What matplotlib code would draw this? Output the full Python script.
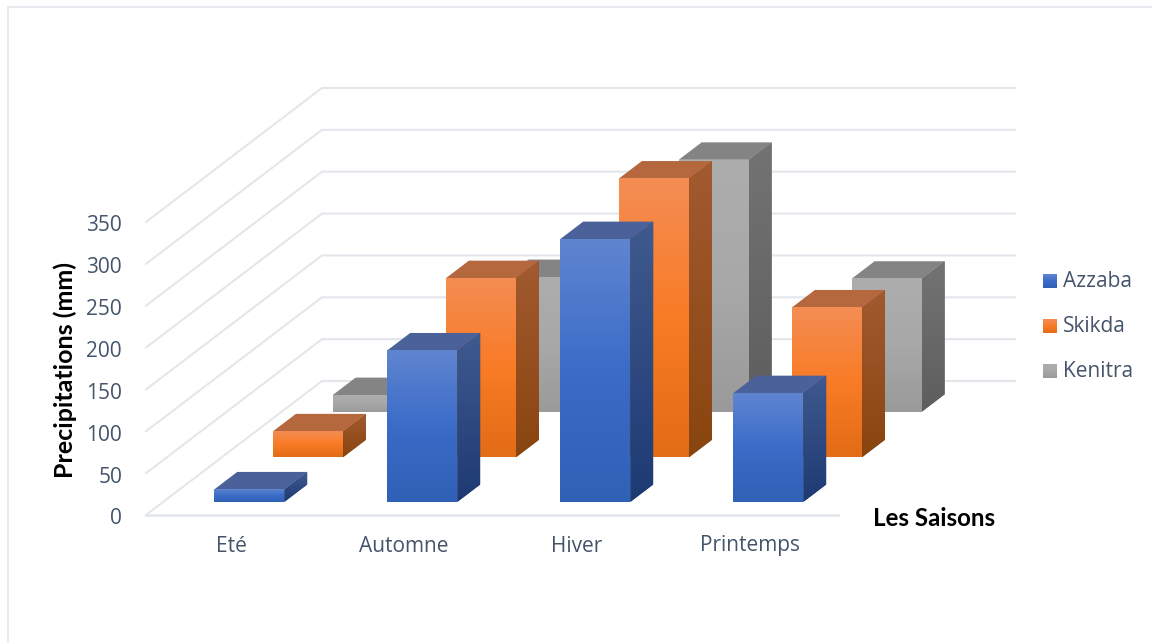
import numpy as np
import matplotlib
matplotlib.use("Agg")
import matplotlib.pyplot as plt
from matplotlib.colors import LinearSegmentedColormap
from matplotlib.patches import Polygon

seasons = ["Eté", "Automne", "Hiver", "Printemps"]
azzaba = [15, 181, 314, 130]
skikda = [31, 214, 333, 179]
kenitra = [20, 161, 301, 159]
series_names = ["Azzaba", "Skikda", "Kenitra"]
yticks = [0, 50, 100, 150, 200, 250, 300, 350]

TICK = "#44546A"
GRID = "#E3E7EC"
styles = {
    "Azzaba": dict(front=["#5F85D0", "#3A6CC8", "#2F61B6"], side=["#3F5A8E", "#1E3A74"], top="#4A6299"),
    "Skikda": dict(front=["#F48D54", "#F97B25", "#E36C16"], side=["#A25A30", "#89450F"], top="#B5683E"),
    "Kenitra": dict(front=["#ADADAD", "#A8A8A8", "#9A9A9A"], side=["#737373", "#5E5E5E"], top="#848484"),
}

fig = plt.figure(figsize=(11.52, 6.43), dpi=100, facecolor="white")
ax = fig.add_axes([0, 0, 1, 1])
W, H = 1152, 643
ax.set_xlim(0, W)
ax.set_ylim(H, 0)
ax.axis("off")

# oblique projection of (category, depth, value)
X0, Y0 = 146, 515
CAT_W = 173
DEPTH_X, DEPTH_Y = 176, 134
UNIT = 41.86 / 50
BAR_W = 70 / CAT_W
BAR_D = 0.13
N_SER = 3


def proj(c, d, v):
    return X0 + c * CAT_W + d * DEPTH_X, Y0 - d * DEPTH_Y - v * UNIT


def gradient(poly, colors, z):
    pts = np.array(poly)
    x0, x1, y0, y1 = pts[:, 0].min(), pts[:, 0].max(), pts[:, 1].min(), pts[:, 1].max()
    # solid underlay hides the light fringe of the clipped image
    ax.add_patch(Polygon(pts, closed=True, facecolor=colors[len(colors) // 2], edgecolor="none", zorder=z - 0.01))
    cmap = LinearSegmentedColormap.from_list("g", colors)
    im = ax.imshow(np.linspace(0, 1, 128)[:, None], extent=[x0, x1, y1, y0], cmap=cmap,
                   aspect="auto", zorder=z, interpolation="bilinear")
    clip = Polygon(pts, closed=True, transform=ax.transData, facecolor="none", edgecolor="none")
    ax.add_patch(clip)
    im.set_clip_path(clip)


# walls: grid lines
for v in yticks:
    xs = [proj(0, 0, v)[0], proj(0, 1, v)[0], proj(4, 1, v)[0] + 1]
    ys = [proj(0, 0, v)[1], proj(0, 1, v)[1], proj(4, 1, v)[1]]
    ax.plot(xs, ys, color=GRID, lw=1.5, zorder=1, solid_joinstyle="miter")
    x, y = proj(0, 0, v)
    ax.text(x - 24, y + 1.5, str(v), ha="right", va="center_baseline", fontsize=15,
            color=TICK, family="Open Sans", zorder=5)
ax.plot([proj(0, 0, 0)[0], proj(4, 0, 0)[0]], [Y0, Y0], color=GRID, lw=2, zorder=1)

# bars, back row first
rows = [("Kenitra", kenitra, 2), ("Skikda", skikda, 1), ("Azzaba", azzaba, 0)]
z = 2
for name, vals, row in rows:
    st = styles[name]
    d0 = (row + 0.5) / N_SER - BAR_D / 2 - 0.004 + 0.006 * (row == 2)
    d1 = d0 + BAR_D
    for i, v in enumerate(vals):
        c0 = i + 0.5 - BAR_W / 2 - 0.002
        c1 = c0 + BAR_W
        front = [proj(c0, d0, 0), proj(c1, d0, 0), proj(c1, d0, v), proj(c0, d0, v)]
        side = [proj(c1, d0, 0), proj(c1, d1, 0), proj(c1, d1, v), proj(c1, d0, v)]
        top = [proj(c0, d0, v), proj(c1, d0, v), proj(c1, d1, v), proj(c0, d1, v)]
        gradient(side, st["side"], z)
        ax.add_patch(Polygon(top, closed=True, facecolor=st["top"], edgecolor="none", zorder=z + 0.1))
        gradient(front, st["front"], z + 0.2)
        z += 1

# category labels
for i, s in enumerate(seasons):
    x, _ = proj(i + 0.5, 0, 0)
    ax.text(x - 1.5, 546, s, ha="center", va="center", fontsize=15, color=TICK, family="Open Sans")

# axis titles
ax.text(65, 370.5, "Precipitations (mm)", rotation=90, ha="center", va="center",
        fontsize=18, fontweight="bold", color="black", family="Lato")
ax.text(934.5, 518, "Les Saisons", ha="center", va="center",
        fontsize=17.4, fontweight="bold", color="black", family="Lato")

# legend
for name, y in zip(series_names, [281, 326, 371]):
    gradient([(1043, y - 7), (1057, y - 7), (1057, y + 7), (1043, y + 7)], styles[name]["front"], 500)
    ax.text(1063, y + 0.5, name, ha="left", va="center", fontsize=15, color=TICK, family="Open Sans")

ax.set_xlim(0, W)
ax.set_ylim(H, 0)

# chart frame
ax.plot([8, 8, W], [H, 6.5, 6.5], color=GRID, lw=1.2, zorder=0, solid_joinstyle="miter")

fig.savefig("out.png", dpi=100, facecolor="white")
